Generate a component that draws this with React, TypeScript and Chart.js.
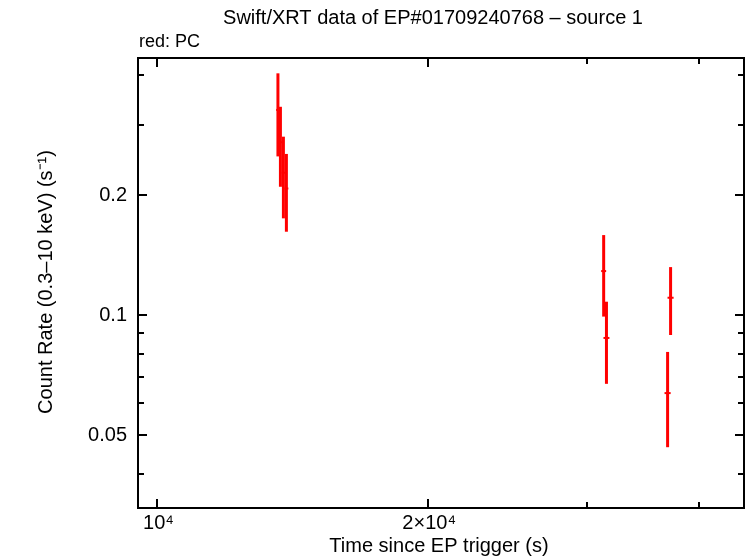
import React, { useEffect, useRef } from "react";
import { Chart, registerables } from "chart.js";

Chart.register(...registerables);

// ---- data ----
const times = [13613, 13700, 13805, 13911, 31345, 31570, 36920, 37204];
const timeErr = [62, 62, 62, 70, 200, 240, 290, 290];
const rates = [0.327, 0.2714, 0.2275, 0.2077, 0.1289, 0.0876, 0.0637, 0.1105];
const rateErr = [0.077, 0.0616, 0.0527, 0.0459, 0.0298, 0.0204, 0.0171, 0.0214];

const xRange = [9538, 44783];
const yRange = [0.03299, 0.4414];

const xMajorTicks = [1e4, 2e4];
const xMajorLabels = ["10⁴", "2×10⁴"];
const xMinorTicks = [3e4, 4e4];

const yMajorTicks = [0.05, 0.1, 0.2];
const yMajorLabels = ["0.05", "0.1", "0.2"];
const yMinorTicks = [0.04, 0.06, 0.07, 0.08, 0.09, 0.3, 0.4];

const titleText = "Swift/XRT data of EP#01709240768 – source 1";
const subtitleText = "red: PC";
const xTitle = "Time since EP trigger (s)";
const yTitle = "Count Rate (0.3–10 keV) (s⁻¹)";

const FONT = '"Liberation Sans", Arial, Helvetica, sans-serif';

const overlay = {
  id: "qdpOverlay",
  afterDatasetsDraw(chart: any) {
    const ctx = chart.ctx as CanvasRenderingContext2D;
    const xs = chart.scales.x;
    const ys = chart.scales.y;
    const { left, top, right, bottom } = chart.chartArea;
    ctx.save();

    // error bars
    ctx.strokeStyle = "#ff0000";
    ctx.lineCap = "butt";
    for (let i = 0; i < times.length; i++) {
      const px = xs.getPixelForValue(times[i]);
      const py = ys.getPixelForValue(rates[i]);
      const yHi = ys.getPixelForValue(rates[i] + rateErr[i]);
      const yLo = ys.getPixelForValue(rates[i] - rateErr[i]);
      ctx.lineWidth = 3;
      ctx.beginPath();
      ctx.moveTo(px, yHi);
      ctx.lineTo(px, yLo);
      ctx.stroke();
      const xL = xs.getPixelForValue(times[i] - timeErr[i]);
      const xR = xs.getPixelForValue(times[i] + timeErr[i]);
      ctx.lineWidth = 2;
      ctx.beginPath();
      ctx.moveTo(xL, py);
      ctx.lineTo(xR, py);
      ctx.stroke();
    }

    // frame
    const fl = left - 1, ft = top, fr = right + 1, fb = bottom + 1;
    ctx.strokeStyle = "#000";
    ctx.lineWidth = 2;
    ctx.strokeRect(fl, ft, fr - fl, fb - ft);

    // ticks (inward, mirrored)
    const major = 9, minor = 6;
    const xTick = (v: number, len: number) => {
      const p = Math.round(xs.getPixelForValue(v));
      ctx.beginPath();
      ctx.moveTo(p, fb);
      ctx.lineTo(p, fb - len);
      ctx.moveTo(p, ft);
      ctx.lineTo(p, ft + len);
      ctx.stroke();
    };
    const yTick = (v: number, len: number) => {
      const p = Math.round(ys.getPixelForValue(v));
      ctx.beginPath();
      ctx.moveTo(fl, p);
      ctx.lineTo(fl + len, p);
      ctx.moveTo(fr, p);
      ctx.lineTo(fr - len, p);
      ctx.stroke();
    };
    xMajorTicks.forEach((v) => xTick(v, major));
    xMinorTicks.forEach((v) => xTick(v, minor));
    yMajorTicks.forEach((v) => yTick(v, major));
    yMinorTicks.forEach((v) => yTick(v, minor));

    // tick labels
    ctx.fillStyle = "#000";
    ctx.font = `20px ${FONT}`;
    ctx.textBaseline = "middle";
    ctx.textAlign = "center";
    xMajorTicks.forEach((v, i) => {
      ctx.fillText(xMajorLabels[i], xs.getPixelForValue(v) + 1, 523);
    });
    ctx.textAlign = "right";
    yMajorTicks.forEach((v, i) => {
      ctx.fillText(yMajorLabels[i], 127, ys.getPixelForValue(v));
    });

    // titles
    ctx.textAlign = "center";
    ctx.fillText(titleText, 433, 18);
    ctx.fillText(xTitle, 439, 546);
    ctx.save();
    ctx.translate(46, 282);
    ctx.rotate(-Math.PI / 2);
    ctx.fillText(yTitle, 0, 0);
    ctx.restore();
    ctx.font = `18px ${FONT}`;
    ctx.textAlign = "left";
    ctx.fillText(subtitleText, fl + 1, 42);

    ctx.restore();
  },
};

export default function App() {
  const ref = useRef<HTMLCanvasElement | null>(null);
  useEffect(() => {
    if (!ref.current) return;
    const chart = new Chart(ref.current, {
      type: "scatter",
      data: {
        datasets: [
          {
            label: "PC",
            data: times.map((t, i) => ({ x: t, y: rates[i] })),
            pointRadius: 0,
            showLine: false,
            borderColor: "#ff0000",
            backgroundColor: "#ff0000",
          },
        ],
      },
      options: {
        responsive: false,
        animation: false,
        devicePixelRatio: 1,
        layout: { padding: { left: 139, top: 58, right: 3, bottom: 51 } },
        plugins: { legend: { display: false }, tooltip: { enabled: false }, title: { display: false } },
        scales: {
          x: { type: "logarithmic", min: xRange[0], max: xRange[1], display: false },
          y: { type: "logarithmic", min: yRange[0], max: yRange[1], display: false },
        },
      },
      plugins: [overlay],
    });
    return () => chart.destroy();
  }, []);
  return (
    <div style={{ position: "fixed", left: 0, top: 0, width: 746, height: 558, background: "#fff" }}>
      <canvas ref={ref} width={746} height={558} style={{ display: "block" }} />
    </div>
  );
}
